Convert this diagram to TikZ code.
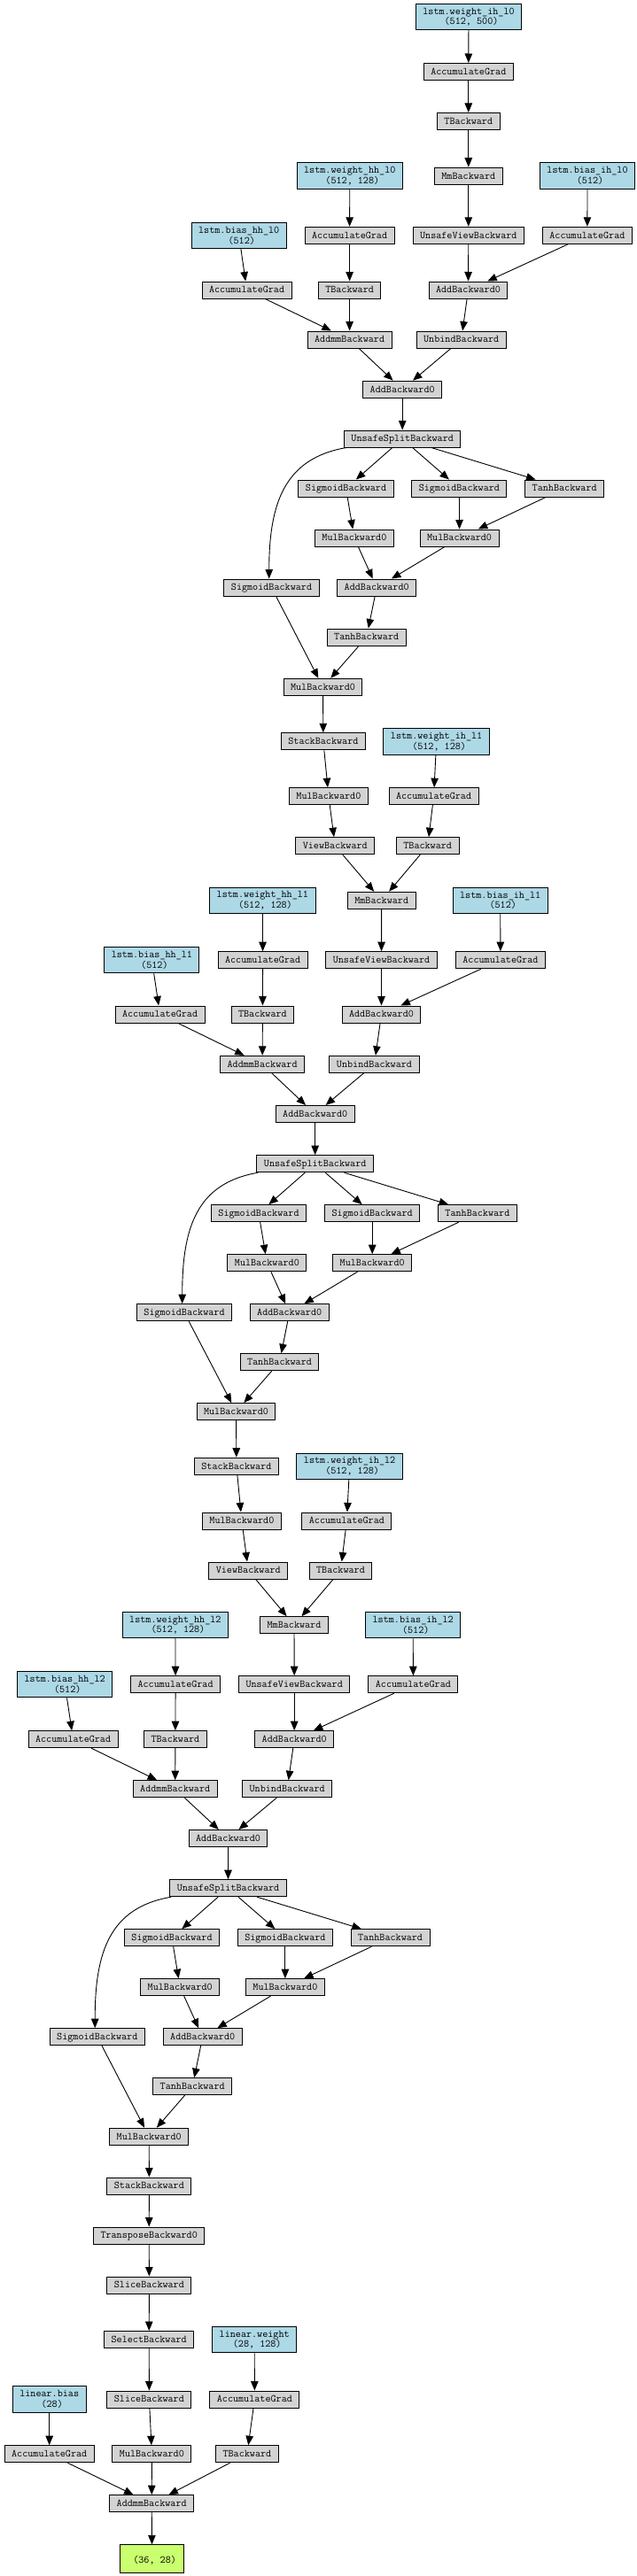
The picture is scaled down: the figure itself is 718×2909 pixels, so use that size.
\documentclass[tikz,border=0pt]{standalone}
\usepackage{fontspec}
\usetikzlibrary{arrows.meta}
\definecolor{fngray}{HTML}{D3D3D3}
\definecolor{parblue}{HTML}{ADD8E6}
\definecolor{outgreen}{HTML}{CAFF70}
\newcommand\gfont{\ttfamily\fontsize{11.8}{11.7}\selectfont}
\tikzset{
  fn/.style={draw=black, line width=1pt, fill=fngray, minimum height=19pt, inner xsep=8pt, inner ysep=0pt, text height=8.4pt, text depth=1.6pt, font=\gfont},
  par/.style={draw=black, line width=1pt, fill=parblue, minimum height=29.5pt, inner xsep=8pt, inner ysep=0pt, align=center, font=\gfont},
  outn/.style={draw=black, line width=1pt, fill=outgreen, minimum width=71.7pt, minimum height=31.4pt, inner xsep=8pt, inner ysep=0pt, align=center, font=\gfont},
  edge/.style={-{Triangle[length=10.5pt,width=8.5pt]}, line width=0.9pt},
  loopedge/.style={edge}
}
\begin{document}
\begin{tikzpicture}[x=1pt,y=-1pt]
\fill[white] (0,0) rectangle (718,2909);
\useasboundingbox (0,0) rectangle (718,2909);
% ---------- layer 0
\node[par] (wihA) at (529,19) {lstm.weight\_ih\_l0\\~(512, 500)};
\node[fn] (agwihA) at (528.8,81) {AccumulateGrad};
\node[fn] (tA1) at (528.8,137) {TBackward};
\node[fn] (mmA) at (528.8,198.7) {MmBackward};
\node[par] (whhA) at (394.8,198.5) {lstm.weight\_hh\_l0\\~(512, 128)};
\node[par] (bihA) at (663,198.5) {lstm.bias\_ih\_l0\\~(512)};
\node[par] (bhhA) at (269.7,266) {lstm.bias\_hh\_l0\\~(512)};
\node[fn] (agwhhA) at (394.6,265.8) {AccumulateGrad};
\node[fn] (uvA) at (528.8,265.8) {UnsafeViewBackward};
\node[fn] (agbihA) at (662.9,265.8) {AccumulateGrad};
\node[fn] (agbhhA) at (278.6,327.5) {AccumulateGrad};
\node[fn] (tA2) at (394.6,327.5) {TBackward};
\node[fn] (addA1) at (528.5,327.5) {AddBackward0};
\node[fn] (addmmA) at (394.6,383.5) {AddmmBackward};
\node[fn] (unbA) at (520.7,383.5) {UnbindBackward};
\node[fn] (addA2) at (454.2,439.7) {AddBackward0};
\node[fn] (usA) at (454.2,495.5) {UnsafeSplitBackward};
\node[fn] (sigA1) at (390.5,551.5) {SigmoidBackward};
\node[fn] (sigA2) at (518.4,551.5) {SigmoidBackward};
\node[fn] (tanhA1) at (637.2,551.5) {TanhBackward};
\node[fn] (mulA1) at (399.9,607.5) {MulBackward0};
\node[fn] (mulA2) at (518.6,607.5) {MulBackward0};
\node[fn] (sigA3) at (306.5,663.5) {SigmoidBackward};
\node[fn] (addA3) at (425.2,663.5) {AddBackward0};
\node[fn] (tanhA2) at (413.7,719.5) {TanhBackward};
\node[fn] (mulA3) at (364.5,775.8) {MulBackward0};
\node[fn] (stackA) at (364.9,837.3) {StackBackward};
\node[fn] (mulA4) at (370.9,899.2) {MulBackward0};
\node[fn] (viewA) at (378.3,955.2) {ViewBackward};
% ---------- layer 1
\node[par] (wihB) at (492.6,837.5) {lstm.weight\_ih\_l1\\~(512, 128)};
\node[fn] (agwihB) at (489.6,899.2) {AccumulateGrad};
\node[fn] (tB1) at (482.7,955.2) {TBackward};
\node[fn] (mmB) at (430.7,1016.8) {MmBackward};
\node[par] (whhB) at (296.4,1016.8) {lstm.weight\_hh\_l1\\~(512, 128)};
\node[par] (bihB) at (564.7,1016.8) {lstm.bias\_ih\_l1\\~(512)};
\node[par] (bhhB) at (171.4,1084) {lstm.bias\_hh\_l1\\~(512)};
\node[fn] (agwhhB) at (296.6,1084.2) {AccumulateGrad};
\node[fn] (uvB) at (430.5,1084.2) {UnsafeViewBackward};
\node[fn] (agbihB) at (564.9,1084.2) {AccumulateGrad};
\node[fn] (agbhhB) at (180.6,1145.5) {AccumulateGrad};
\node[fn] (tB2) at (296.4,1145.5) {TBackward};
\node[fn] (addB1) at (430.5,1145.5) {AddBackward0};
\node[fn] (addmmB) at (296.1,1201.8) {AddmmBackward};
\node[fn] (unbB) at (422.5,1201.8) {UnbindBackward};
\node[fn] (addB2) at (355.7,1258) {AddBackward0};
\node[fn] (usB) at (355.7,1314.2) {UnsafeSplitBackward};
\node[fn] (sigB1) at (292,1370.2) {SigmoidBackward};
\node[fn] (sigB2) at (420.2,1370.2) {SigmoidBackward};
\node[fn] (tanhB1) at (538.9,1370.2) {TanhBackward};
\node[fn] (mulB1) at (301.4,1426.2) {MulBackward0};
\node[fn] (mulB2) at (420.2,1426.2) {MulBackward0};
\node[fn] (sigB3) at (208,1482.2) {SigmoidBackward};
\node[fn] (addB3) at (326.7,1482.2) {AddBackward0};
\node[fn] (tanhB2) at (315.5,1538.2) {TanhBackward};
\node[fn] (mulB3) at (266.5,1594.2) {MulBackward0};
\node[fn] (stackB) at (266.9,1655.7) {StackBackward};
\node[fn] (mulB4) at (272.9,1717.5) {MulBackward0};
\node[fn] (viewB) at (280.3,1773.5) {ViewBackward};
% ---------- layer 2
\node[par] (wihC) at (394.6,1655.8) {lstm.weight\_ih\_l2\\~(512, 128)};
\node[fn] (agwihC) at (391.4,1717.5) {AccumulateGrad};
\node[fn] (tC1) at (384.5,1773.5) {TBackward};
\node[fn] (mmC) at (332,1835.2) {MmBackward};
\node[par] (whhC) at (197.9,1835.2) {lstm.weight\_hh\_l2\\~(512, 128)};
\node[par] (bihC) at (466.2,1835.2) {lstm.bias\_ih\_l2\\~(512)};
\node[par] (bhhC) at (73.2,1902.2) {lstm.bias\_hh\_l2\\~(512)};
\node[fn] (agwhhC) at (198.1,1902.2) {AccumulateGrad};
\node[fn] (uvC) at (332.2,1902.2) {UnsafeViewBackward};
\node[fn] (agbihC) at (466.4,1902.2) {AccumulateGrad};
\node[fn] (agbhhC) at (82.6,1964.2) {AccumulateGrad};
\node[fn] (tC2) at (197.9,1964.2) {TBackward};
\node[fn] (addC1) at (332.2,1964.2) {AddBackward0};
\node[fn] (addmmC) at (197.7,2020.2) {AddmmBackward};
\node[fn] (unbC) at (324.2,2020.2) {UnbindBackward};
\node[fn] (addC2) at (257.5,2076) {AddBackward0};
\node[fn] (usC) at (257.5,2132.2) {UnsafeSplitBackward};
\node[fn] (sigC1) at (194,2188.2) {SigmoidBackward};
\node[fn] (sigC2) at (321.9,2188.2) {SigmoidBackward};
\node[fn] (tanhC1) at (440.6,2188.2) {TanhBackward};
\node[fn] (mulC1) at (203.2,2244.2) {MulBackward0};
\node[fn] (mulC2) at (321.9,2244.2) {MulBackward0};
\node[fn] (sigC3) at (109.8,2300.2) {SigmoidBackward};
\node[fn] (addC3) at (228.7,2300.2) {AddBackward0};
\node[fn] (tanhC2) at (217.2,2356.2) {TanhBackward};
\node[fn] (mulC3) at (168.2,2412.7) {MulBackward0};
\node[fn] (stackC) at (168.4,2468.5) {StackBackward};
\node[fn] (transp) at (168.2,2524.5) {TransposeBackward0};
\node[fn] (slice1) at (168.4,2580.5) {SliceBackward};
\node[fn] (select) at (168.2,2642) {SelectBackward};
\node[par] (linw) at (287.2,2642.2) {linear.weight\\~(28, 128)};
\node[fn] (slice2) at (168.4,2709.5) {SliceBackward};
\node[fn] (agw) at (287.4,2709.5) {AccumulateGrad};
\node[par] (linb) at (55.7,2709.5) {linear.bias\\~(28)};
\node[fn] (agb) at (55.7,2771.2) {AccumulateGrad};
\node[fn] (mulD) at (171.4,2771.2) {MulBackward0};
\node[fn] (tD) at (278.9,2771.2) {TBackward};
\node[fn] (addmmD) at (171.2,2827.2) {AddmmBackward};
\node[outn] (out) at (171.6,2889.5) {\mbox{}\\~(36, 28)};
% ---------- edges layer 0
\draw[edge] (wihA) -- (agwihA);
\draw[edge] (agwihA) -- (tA1);
\draw[edge] (tA1) -- (mmA);
\draw[edge] (mmA) -- (uvA);
\draw[edge] (whhA) -- (agwhhA);
\draw[edge] (bihA) -- (agbihA);
\draw[edge] (bhhA) -- (agbhhA);
\draw[edge] (agwhhA) -- (tA2);
\draw[edge] (uvA) -- (addA1);
\draw[edge] (agbihA) -- (addA1);
\draw[edge] (agbhhA) -- (addmmA);
\draw[edge] (tA2) -- (addmmA);
\draw[edge] (addA1) -- (unbA);
\draw[edge] (addmmA) -- (addA2);
\draw[edge] (unbA) -- (addA2);
\draw[edge] (addA2) -- (usA);
\draw[edge] (usA) -- (sigA1);
\draw[edge] (usA) -- (sigA2);
\draw[edge] (usA) -- (tanhA1);
\draw[edge] ([xshift=3pt]usA.south west) .. controls +(-70,12) and +(0,-85) .. ([xshift=-2.8pt]sigA3.north);
\draw[edge] (sigA1) -- (mulA1);
\draw[edge] (sigA2) -- (mulA2);
\draw[edge] (tanhA1) -- (mulA2);
\draw[edge] (mulA1) -- (addA3);
\draw[edge] (mulA2) -- (addA3);
\draw[edge] (addA3) -- (tanhA2);
\draw[edge] (sigA3) -- (mulA3);
\draw[edge] (tanhA2) -- (mulA3);
\draw[edge] (mulA3) -- (stackA);
\draw[edge] (stackA) -- (mulA4);
\draw[edge] (mulA4) -- (viewA);
\draw[edge] (viewA) -- (mmB);
% ---------- edges layer 1
\draw[edge] (wihB) -- (agwihB);
\draw[edge] (agwihB) -- (tB1);
\draw[edge] (tB1) -- (mmB);
\draw[edge] (mmB) -- (uvB);
\draw[edge] (whhB) -- (agwhhB);
\draw[edge] (bihB) -- (agbihB);
\draw[edge] (bhhB) -- (agbhhB);
\draw[edge] (agwhhB) -- (tB2);
\draw[edge] (uvB) -- (addB1);
\draw[edge] (agbihB) -- (addB1);
\draw[edge] (agbhhB) -- (addmmB);
\draw[edge] (tB2) -- (addmmB);
\draw[edge] (addB1) -- (unbB);
\draw[edge] (addmmB) -- (addB2);
\draw[edge] (unbB) -- (addB2);
\draw[edge] (addB2) -- (usB);
\draw[edge] (usB) -- (sigB1);
\draw[edge] (usB) -- (sigB2);
\draw[edge] (usB) -- (tanhB1);
\draw[edge] ([xshift=1.8pt]usB.south west) .. controls +(-70,12) and +(0,-85) .. ([xshift=-2.3pt]sigB3.north);
\draw[edge] (sigB1) -- (mulB1);
\draw[edge] (sigB2) -- (mulB2);
\draw[edge] (tanhB1) -- (mulB2);
\draw[edge] (mulB1) -- (addB3);
\draw[edge] (mulB2) -- (addB3);
\draw[edge] (addB3) -- (tanhB2);
\draw[edge] (sigB3) -- (mulB3);
\draw[edge] (tanhB2) -- (mulB3);
\draw[edge] (mulB3) -- (stackB);
\draw[edge] (stackB) -- (mulB4);
\draw[edge] (mulB4) -- (viewB);
\draw[edge] (viewB) -- (mmC);
% ---------- edges layer 2
\draw[edge] (wihC) -- (agwihC);
\draw[edge] (agwihC) -- (tC1);
\draw[edge] (tC1) -- (mmC);
\draw[edge] (mmC) -- (uvC);
\draw[edge] (whhC) -- (agwhhC);
\draw[edge] (bihC) -- (agbihC);
\draw[edge] (bhhC) -- (agbhhC);
\draw[edge] (agwhhC) -- (tC2);
\draw[edge] (uvC) -- (addC1);
\draw[edge] (agbihC) -- (addC1);
\draw[edge] (agbhhC) -- (addmmC);
\draw[edge] (tC2) -- (addmmC);
\draw[edge] (addC1) -- (unbC);
\draw[edge] (addmmC) -- (addC2);
\draw[edge] (unbC) -- (addC2);
\draw[edge] (addC2) -- (usC);
\draw[edge] (usC) -- (sigC1);
\draw[edge] (usC) -- (sigC2);
\draw[edge] (usC) -- (tanhC1);
\draw[edge] ([xshift=1.9pt]usC.south west) .. controls +(-70,12) and +(0,-85) .. ([xshift=-2.6pt]sigC3.north);
\draw[edge] (sigC1) -- (mulC1);
\draw[edge] (sigC2) -- (mulC2);
\draw[edge] (tanhC1) -- (mulC2);
\draw[edge] (mulC1) -- (addC3);
\draw[edge] (mulC2) -- (addC3);
\draw[edge] (addC3) -- (tanhC2);
\draw[edge] (sigC3) -- (mulC3);
\draw[edge] (tanhC2) -- (mulC3);
\draw[edge] (mulC3) -- (stackC);
\draw[edge] (stackC) -- (transp);
\draw[edge] (transp) -- (slice1);
\draw[edge] (slice1) -- (select);
\draw[edge] (select) -- (slice2);
\draw[edge] (slice2) -- (mulD);
\draw[edge] (linw) -- (agw);
\draw[edge] (agw) -- (tD);
\draw[edge] (linb) -- (agb);
\draw[edge] (agb) -- (addmmD);
\draw[edge] (mulD) -- (addmmD);
\draw[edge] (tD) -- (addmmD);
\draw[edge] (addmmD) -- (out);
\end{tikzpicture}
\end{document}
